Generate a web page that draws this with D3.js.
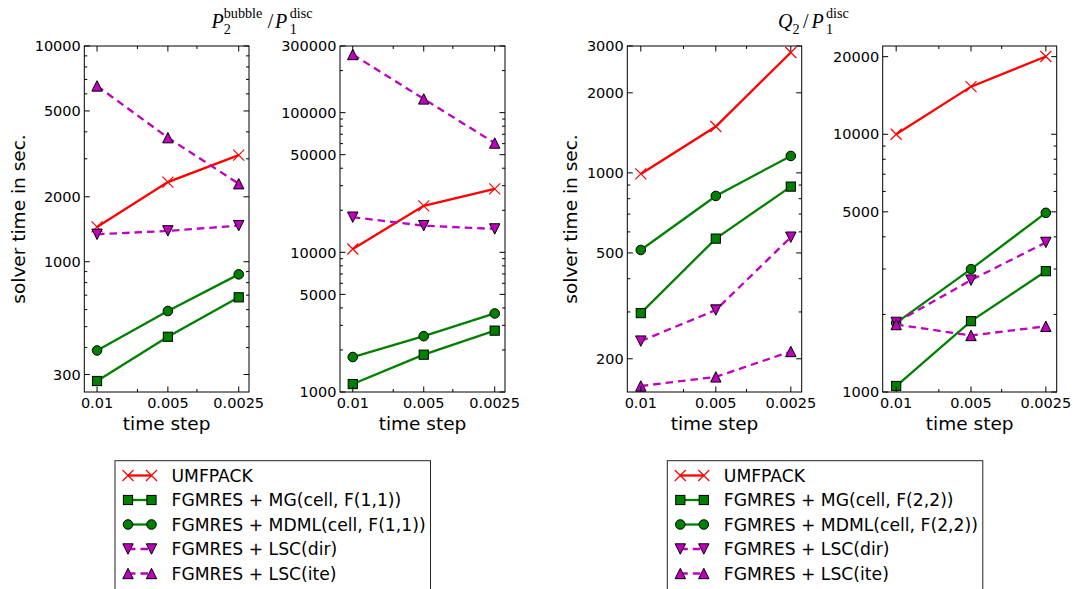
<!DOCTYPE html>
<html>
<head>
<meta charset="utf-8">
<script src="https://cdnjs.cloudflare.com/ajax/libs/d3/7.8.5/d3.min.js"></script>
<style>
  html, body { margin: 0; padding: 0; background: #fff; }
  svg { display: block; font-family: "DejaVu Sans", sans-serif; }
</style>
</head>
<body>
<div id="chart"></div>
<script>
(function() {
  'use strict';

const timeSteps = ["0.01", "0.005", "0.0025"];

const legendLeft = ["UMFPACK", "FGMRES + MG(cell, F(1,1))", "FGMRES + MDML(cell, F(1,1))",
                    "FGMRES + LSC(dir)", "FGMRES + LSC(ite)"];
const legendRight = ["UMFPACK", "FGMRES + MG(cell, F(2,2))", "FGMRES + MDML(cell, F(2,2))",
                     "FGMRES + LSC(dir)", "FGMRES + LSC(ite)"];

// P2bubble / P1disc, first panel
const a_umfpack = [1450, 2340, 3120];
const a_mg      = [280, 449, 684];
const a_mdml    = [388, 591, 874];
const a_lscDir  = [1340, 1390, 1470];
const a_lscIte  = [6530, 3760, 2300];
const a_yTicks  = [300, 1000, 2000, 5000, 10000];
const a_yDomain = [249, 10000];

// P2bubble / P1disc, second panel
const b_umfpack = [10570, 21500, 28460];
const b_mg      = [1140, 1850, 2750];
const b_mdml    = [1780, 2510, 3650];
const b_lscDir  = [17840, 15520, 14700];
const b_lscIte  = [260700, 125400, 60600];
const b_yTicks  = [1000, 5000, 10000, 50000, 100000, 300000];
const b_yDomain = [1000, 300000];

// Q2 / P1disc, first panel
const c_umfpack = [991, 1494, 2836];
const c_mg      = [297, 566, 888];
const c_mdml    = [513, 819, 1158];
const c_lscDir  = [233, 305, 573];
const c_lscIte  = [158, 171, 213];
const c_yTicks  = [200, 500, 1000, 2000, 3000];
const c_yDomain = [150, 3000];

// Q2 / P1disc, second panel
const d_umfpack = [10000, 15300, 20030];
const d_mg      = [1055, 1883, 2943];
const d_mdml    = [1854, 2997, 4956];
const d_lscDir  = [1862, 2716, 3805];
const d_lscIte  = [1827, 1657, 1799];
const d_yTicks  = [1000, 5000, 10000, 20000];
const d_yDomain = [1000, 22000];

const xMinor = [0.57, 1.41];

const W = 1073;
const H = 589;
const TOP = 46;
const BOTTOM = 392;

const styles = [
  { color: "#ff0000", marker: "x",      dash: null },
  { color: "#008000", marker: "square", dash: null },
  { color: "#008000", marker: "circle", dash: null },
  { color: "#bf00bf", marker: "down",   dash: "7.5,5" },
  { color: "#bf00bf", marker: "up",     dash: "7.5,5" }
];

const panels = [
  { x0: 84.3,  x1: 249,    series: [a_umfpack, a_mg, a_mdml, a_lscDir, a_lscIte], ticks: a_yTicks, domain: a_yDomain, ylabel: 25 },
  { x0: 340,   x1: 505,    series: [b_umfpack, b_mg, b_mdml, b_lscDir, b_lscIte], ticks: b_yTicks, domain: b_yDomain },
  { x0: 627.3, x1: 801.7,  series: [c_umfpack, c_mg, c_mdml, c_lscDir, c_lscIte], ticks: c_yTicks, domain: c_yDomain, ylabel: 577 },
  { x0: 882.7, x1: 1056.7, series: [d_umfpack, d_mg, d_mdml, d_lscDir, d_lscIte], ticks: d_yTicks, domain: d_yDomain }
];

const svg = d3.select("#chart")
  .append("svg")
    .attr("width", W)
    .attr("height", H);

function drawMarker(g, type, color, x, y) {
  if (type === "x") {
    g.append("path")
      .attr("d", `M${x-5.5},${y-5.5}L${x+5.5},${y+5.5}M${x-5.5},${y+5.5}L${x+5.5},${y-5.5}`)
      .attr("stroke", color)
      .attr("stroke-width", 1.2)
      .attr("fill", "none");
    return;
  }
  let el;
  if (type === "square") {
    el = g.append("rect").attr("x", x - 4.6).attr("y", y - 4.6).attr("width", 9.2).attr("height", 9.2);
  } else if (type === "circle") {
    el = g.append("circle").attr("cx", x).attr("cy", y).attr("r", 4.8);
  } else if (type === "up") {
    el = g.append("path").attr("d", `M${x},${y-5.2}L${x+5.2},${y+5.2}L${x-5.2},${y+5.2}Z`);
  } else {
    el = g.append("path").attr("d", `M${x},${y+5.2}L${x+5.2},${y-5.2}L${x-5.2},${y-5.2}Z`);
  }
  el.attr("fill", color).attr("stroke", "#000").attr("stroke-width", 1);
}

panels.forEach(function(p) {
  const xScale = d3.scaleLinear()
                  .domain([-0.18, 2.145])
                  .range([p.x0, p.x1]);
  const yScale = d3.scaleLog()
                  .domain(p.domain)
                  .range([BOTTOM, TOP]);

  const g = svg.append("g");

  // series
  const line = d3.line()
    .x((d, i) => xScale(i))
    .y((d) => yScale(d));

  p.series.forEach(function(values, k) {
    const s = styles[k];
    g.append("path")
      .datum(values)
      .attr("d", line)
      .attr("fill", "none")
      .attr("stroke", s.color)
      .attr("stroke-width", 2.3)
      .attr("stroke-dasharray", s.dash);
    values.forEach((v, i) => drawMarker(g, s.marker, s.color, xScale(i), yScale(v)));
  });

  // frame
  g.append("rect")
    .attr("x", p.x0).attr("y", TOP)
    .attr("width", p.x1 - p.x0).attr("height", BOTTOM - TOP)
    .attr("fill", "none").attr("stroke", "#000").attr("stroke-width", 1);

  // y ticks (log minor ticks everywhere, major where labelled)
  const lo = Math.floor(Math.log10(p.domain[0]));
  const hi = Math.ceil(Math.log10(p.domain[1]));
  const yMinor = [];
  for (let e = lo; e <= hi; e++) {
    for (let m = 1; m <= 9; m++) {
      const v = m * Math.pow(10, e);
      if (v >= p.domain[0] * 0.999 && v <= p.domain[1] * 1.001 && p.ticks.indexOf(v) < 0) yMinor.push(v);
    }
  }
  function hTick(v, len) {
    const y = yScale(v);
    g.append("line").attr("x1", p.x0).attr("x2", p.x0 + len).attr("y1", y).attr("y2", y)
      .attr("stroke", "#000").attr("stroke-width", 1);
    g.append("line").attr("x1", p.x1).attr("x2", p.x1 - len).attr("y1", y).attr("y2", y)
      .attr("stroke", "#000").attr("stroke-width", 1);
  }
  function vTick(v, len) {
    const x = xScale(v);
    g.append("line").attr("x1", x).attr("x2", x).attr("y1", BOTTOM).attr("y2", BOTTOM - len)
      .attr("stroke", "#000").attr("stroke-width", 1);
    g.append("line").attr("x1", x).attr("x2", x).attr("y1", TOP).attr("y2", TOP + len)
      .attr("stroke", "#000").attr("stroke-width", 1);
  }
  yMinor.forEach((v) => hTick(v, 3));
  p.ticks.forEach((v) => hTick(v, 5.5));
  xMinor.forEach((v) => vTick(v, 3));
  timeSteps.forEach((t, i) => vTick(i, 5.5));

  g.selectAll(".ylab")
    .data(p.ticks)
    .enter()
    .append("text")
      .attr("x", p.x0 - 3.5)
      .attr("y", (d) => yScale(d))
      .attr("dy", "0.36em")
      .attr("text-anchor", "end")
      .style("font-size", "14.5px")
      .text((d) => String(d));

  g.selectAll(".xlab")
    .data(timeSteps)
    .enter()
    .append("text")
      .attr("x", (d, i) => xScale(i))
      .attr("y", 408)
      .attr("text-anchor", "middle")
      .style("font-size", "14.5px")
      .text((d) => d);

  g.append("text")
    .attr("x", (p.x0 + p.x1) / 2)
    .attr("y", 430)
    .attr("text-anchor", "middle")
    .style("font-size", "18.5px")
    .text("time step");

  if (p.ylabel) {
    g.append("text")
      .attr("transform", `translate(${p.ylabel}, ${(TOP + BOTTOM) / 2}) rotate(-90)`)
      .attr("text-anchor", "middle")
      .style("font-size", "18.5px")
      .text("solver time in sec.");
  }
});

// math-like titles: one <text>, pieces placed as tspans
const TITLE_FONT = '"Liberation Serif", serif';

function measure(str, size, italic) {
  const t = svg.append("text")
    .style("font-family", TITLE_FONT)
    .style("font-size", size + "px")
    .style("font-style", italic ? "italic" : "normal")
    .text(str);
  const w = t.node().getComputedTextLength();
  t.remove();
  return w;
}

function mathTitle(x, y, pieces) {
  const text = svg.append("text").style("font-family", TITLE_FONT);
  let cx = x;
  pieces.forEach(function(pc) {
    if (pc.gap) cx += pc.gap;
    if (pc.base) {
      text.append("tspan").attr("x", cx).attr("y", y)
        .style("font-size", "20px")
        .style("font-style", pc.italic ? "italic" : "normal")
        .text(pc.base);
      cx += measure(pc.base, 20, pc.italic);
    }
    let w = 0;
    if (pc.sub) {
      text.append("tspan").attr("x", cx).attr("y", y + 5.5).style("font-size", "14.2px").text(pc.sub);
      w = Math.max(w, measure(pc.sub, 14.2, false));
    }
    if (pc.sup) {
      text.append("tspan").attr("x", cx).attr("y", y - 10.5).style("font-size", "14.2px").text(pc.sup);
      w = Math.max(w, measure(pc.sup, 14.2, false));
    }
    cx += w;
  });
}

mathTitle(211.5, 28, [
  { base: "P", italic: true }, { sub: "2", sup: "bubble" },
  { base: "/", gap: 5.5 }, { base: "P", italic: true, gap: 1.5 }, { sub: "1", sup: "disc", gap: 2.5 }
]);
mathTitle(778, 28, [
  { base: "Q", italic: true }, { sub: "2" },
  { base: "/", gap: 3.5 }, { base: "P", italic: true, gap: 3 }, { sub: "1", sup: "disc", gap: 2.2 }
]);

// legends
function drawLegend(left, labels) {
  const g = svg.append("g");
  g.append("rect")
    .attr("x", left).attr("y", 460.7)
    .attr("width", 315.5).attr("height", 160)
    .attr("fill", "#fff").attr("stroke", "#222").attr("stroke-width", 1);
  labels.forEach(function(label, k) {
    const s = styles[k];
    const y = 475.5 + k * 24.5;
    g.append("line")
      .attr("x1", left + 13).attr("x2", left + 36.5).attr("y1", y).attr("y2", y)
      .attr("stroke", s.color).attr("stroke-width", 2.3)
      .attr("stroke-dasharray", s.dash);
    drawMarker(g, s.marker, s.color, left + 13, y);
    drawMarker(g, s.marker, s.color, left + 36.5, y);
    g.append("text")
      .attr("x", left + 56.5).attr("y", y)
      .attr("dy", "0.36em")
      .style("font-size", "17.2px")
      .text(label);
  });
}

drawLegend(115, legendLeft);
drawLegend(667.3, legendRight);

})()
</script>
</body>
</html>
